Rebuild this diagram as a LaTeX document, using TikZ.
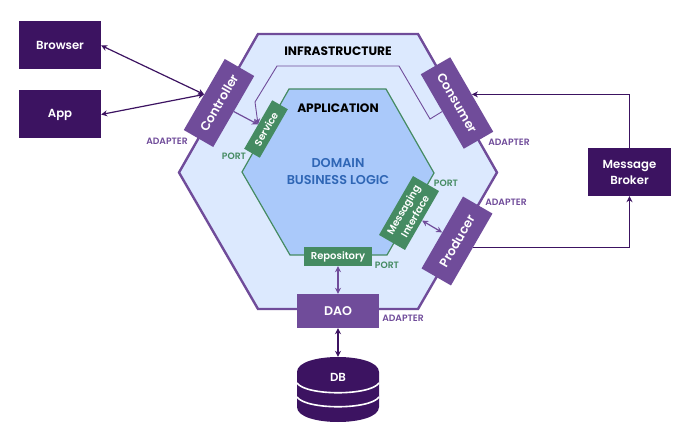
\documentclass[tikz,border=0pt]{standalone}
\usepackage{fontspec}
\setmainfont{Poppins}
\newfontfamily\medfont{Poppins Medium}
\newfontfamily\semifont{Poppins SemiBold}
\newfontfamily\boldfont{Poppins Bold}
\usetikzlibrary{arrows.meta}
\definecolor{deep}{HTML}{3C1361}
\definecolor{midp}{HTML}{704C9A}
\definecolor{portg}{HTML}{458B62}
\definecolor{paleb}{HTML}{DCE9FE}
\definecolor{innerb}{HTML}{AAC9FA}
\definecolor{domainb}{HTML}{2F66B5}
\tikzset{
  x=1pt,y=-1pt,
  darkbox/.style={fill=deep,text=white,minimum width=82pt,inner sep=0pt,align=center,font=\semifont\fontsize{11.7}{16}\selectfont},
  adapterbox/.style={fill=midp,text=white,minimum height=34pt,inner sep=0pt,align=center,font=\semifont\fontsize{12.6}{15}\selectfont},
  portbox/.style={fill=portg,text=white,inner sep=0pt,align=center,font=\semifont\fontsize{10}{13.5}\selectfont},
  adapterlabel/.style={text=midp,inner sep=0pt,font=\semifont\fontsize{9.2}{11}\selectfont},
  portlabel/.style={text=portg,inner sep=0pt,font=\semifont\fontsize{9.2}{11}\selectfont},
  heading/.style={text=black,inner sep=0pt,font=\boldfont\fontsize{12.2}{14}\selectfont},
  tip/.style={-{Stealth[length=6pt,width=6pt]}},
  twotip/.style={{Stealth[length=6pt,width=6pt]}-{Stealth[length=6pt,width=6pt]}},
}
\begin{document}
\begin{tikzpicture}
\useasboundingbox (0,0) rectangle (697,436);
% hexagons
\draw[fill=paleb,draw=midp,line width=2.4pt,line join=miter] (258,34) -- (418,34) -- (497,172.5) -- (418,309) -- (258,309) -- (179,172.5) -- cycle;
\draw[fill=innerb,draw=portg,line width=1.2pt] (289,89) -- (386,89) -- (434,173) -- (387,255) -- (290,255) -- (242,172) -- cycle;
% headings
\node[heading] at (338,51) {INFRASTRUCTURE};
\node[heading] at (338,108) {APPLICATION};
\node[text=domainb,align=center,inner sep=0pt,font=\semifont\fontsize{12.8}{17}\selectfont] at (338,172) {DOMAIN\\BUSINESS LOGIC};
% boxes
\node[darkbox,minimum height=48pt] (browser) at (60,45.5) {Browser};
\node[darkbox,minimum height=48pt] (app) at (60,114.5) {App};
\node[darkbox,minimum width=83pt,minimum height=48pt] (broker) at (629.5,172) {Message\\Broker};
\node[adapterbox,rotate=60,minimum width=82pt] (controller) at (219,103) {Controller};
\node[adapterbox,rotate=-60,minimum width=86pt] (consumer) at (457,103) {Consumer};
\node[adapterbox,rotate=60,minimum width=83pt] (producer) at (457,241) {Producer};
\node[adapterbox,minimum width=82pt] (dao) at (338,311) {DAO};
\node[portbox,rotate=60,minimum width=56pt,minimum height=18pt] (service) at (266,129) {Service};
\node[portbox,rotate=60,minimum width=68pt,minimum height=30pt] (messaging) at (409,213) {Messaging\\Interface};
\node[portbox,minimum width=68pt,minimum height=19pt] (repository) at (338,256.5) {Repository};
% DB
\fill[deep] (297,372) .. controls (297,352) and (379,352) .. (379,372) -- (379,407) .. controls (379,427) and (297,427) .. (297,407) -- cycle;
\draw[white,line width=1.6pt] (297,383) .. controls (306,396) and (370,396) .. (379,383);
\draw[white,line width=1.6pt] (297,397) .. controls (306,410) and (370,410) .. (379,397);
\node[text=white,inner sep=0pt,minimum width=82pt,minimum height=40pt,font=\semifont\fontsize{11.7}{13}\selectfont] (db) at (338,377) {DB};
% labels
\node[adapterlabel] at (167,141) {ADAPTER};
\node[adapterlabel] at (509,142) {ADAPTER};
\node[adapterlabel] at (506,202) {ADAPTER};
\node[adapterlabel] at (403,318) {ADAPTER};
\node[portlabel] at (234,156) {PORT};
\node[portlabel] at (446,183) {PORT};
\node[portlabel] at (387,265) {PORT};
% connectors
\draw[deep,line width=1.2pt,twotip] (browser.east) -- (controller.north);
\draw[deep,line width=1.2pt,twotip] (app.east) -- (controller.north);
\draw[midp,line width=1.2pt,tip] (controller.south) -- (service.north);
\coordinate (bendA) at (255,102);
\coordinate (bendB) at (277,66);
\coordinate (bendC) at (399,66);
\coordinate (bendD) at (430,119);
\draw[midp,line width=0.9pt,tip] (consumer.south) -- (bendD) -- (bendC) -- (bendB) -- (bendA) -- (service.north);
\draw[midp,line width=1.2pt,twotip] (messaging.south) -- (producer.north);
\draw[deep,line width=1.2pt,tip] (producer.-81) -| (broker.south);
\draw[deep,line width=1.2pt,tip] (broker.north) |- (consumer.north);
\draw[midp,line width=1.2pt,twotip] (repository.south) -- (dao.north);
\draw[deep,line width=1.2pt,twotip] (dao.south) -- (db.north);
\end{tikzpicture}
\end{document}
